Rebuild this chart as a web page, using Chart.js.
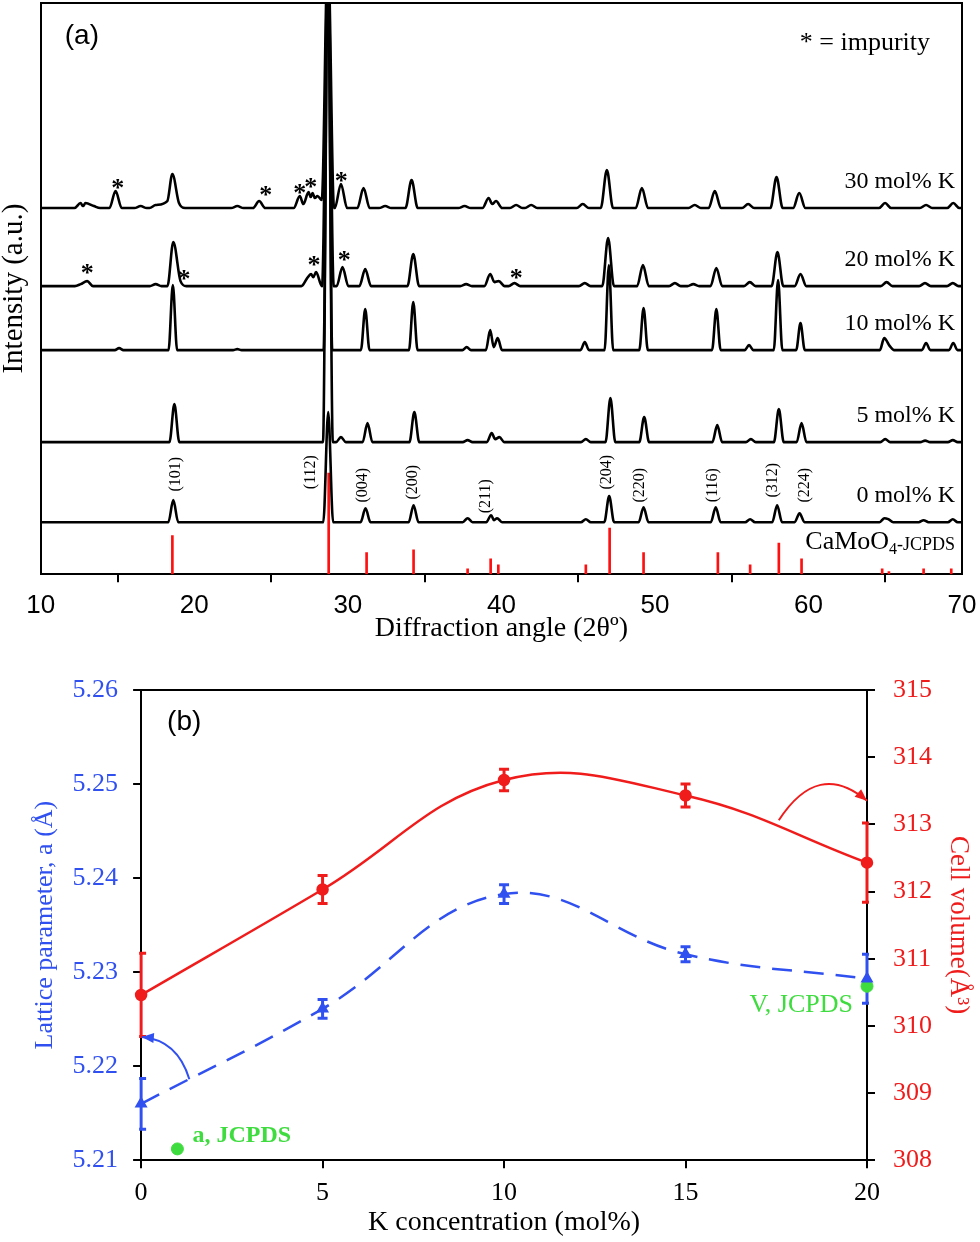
<!DOCTYPE html>
<html>
<head>
<meta charset="utf-8">
<script src="https://cdn.jsdelivr.net/npm/chart.js@4.4.1/dist/chart.umd.min.js"></script>
<style>
  body { margin: 0; background: #fff; }
  #wrapA { position: absolute; left: 0; top: 0; width: 980px; height: 650px; }
  #wrapB { position: absolute; left: 0; top: 650px; width: 980px; height: 592px; }
</style>
</head>
<body>
<div id="wrapA"><canvas id="xrd"></canvas></div>
<div id="wrapB"><canvas id="latt"></canvas></div>
<script>
// ---------- panel (a) data : XRD patterns ----------
var sampleNames = ["0 mol% K", "5 mol% K", "10 mol% K", "20 mol% K", "30 mol% K"];
var baseLevels = [52, 132, 224, 288, 366];     // stacking offset of each pattern (a.u.)
var peakWidths = [0.32, 0.32, 0.28, 0.38, 0.40];

// [2theta, height above the pattern's baseline]
var peaks0 = [[18.63,22],[28.72,110],[31.15,14],[34.28,17],[37.8,4],[39.33,7],[39.52,2],[39.72,4],[45.5,3],
  [47.02,26],[49.26,15],[53.96,15],[56.2,3],[57.96,17],[59.42,9],[64.95,4],[65.2,3],[67.5,2],[69.4,3]];
var peaks5 = [[18.7,38],[28.7,480],[29.55,5],[31.28,19],[34.33,30],[37.8,2],[39.37,9],[39.6,3],[39.87,5],[45.5,3],
  [47.1,44],[49.3,25],[54.06,17],[56.25,3],[58.07,33],[59.55,19],[65.0,3],[67.6,1.5],[69.4,2]];
var peaks10 = [[15.1,2],[18.6,65],[22.8,1],[28.7,420],[31.13,41],[34.26,48],[37.74,3],[39.27,20],[39.5,3],[39.76,12],
  [45.43,8],[47.0,85],[49.26,42],[54.0,41],[56.13,5],[58.02,70],[59.48,27],[64.93,12],[65.3,4],[67.66,7],[69.43,7]];
var peaks20 = [[12.6,2],[13.02,5],[17.48,2],[18.63,44],[19.1,5],[27.35,8],[27.6,12],[27.75,9],[27.93,14],[28.7,330],
  [29.65,19],[31.13,17],[34.26,32],[37.7,2],[39.27,12],[39.55,4],[39.83,5],[40.85,3],[45.43,3],[46.95,48],[49.22,21],
  [51.3,3],[52.5,2],[54.0,18],[56.18,4],[57.98,34],[59.48,12],[65.09,4],[67.59,3],[69.4,3]];
var peaks30 = [[12.59,5],[12.75,2],[12.91,5],[13.46,2],[14.87,17],[16.5,2],[17.48,3],[18.24,7],[18.57,34],[19.0,5],
  [22.8,2],[24.22,7],[26.87,12],[27.1,4],[27.44,16],[27.58,11],[27.7,15],[27.85,10],[28.02,12],[28.3,8],[28.7,260],
  [29.55,24],[31.02,20],[32.43,2],[34.15,28],[37.6,2],[39.17,10],[39.4,4],[39.65,7],[40.96,3],[41.94,3],[45.3,4],
  [46.87,38],[49.15,20],[52.59,3],[53.9,17],[56.07,4],[57.92,31],[59.4,15],[64.99,5],[67.66,3],[69.43,5]];
var allPeaks = [peaks0, peaks5, peaks10, peaks20, peaks30];

// CaMoO4 JCPDS reference lines
var jcpdsAngle = [18.57, 28.75, 31.22, 34.28, 37.8, 39.3, 39.8, 45.5, 47.05, 49.26, 54.1, 56.2, 58.07, 59.55, 64.8, 65.24, 67.5, 69.3];
var jcpdsInt   = [38.7, 101, 21.7, 24.3, 5.3, 15.3, 9.3, 9.3, 46, 21.7, 21.7, 9.3, 31, 15.3, 5.3, 2.7, 5.3, 5.3];

// Miller indices written above the 0 mol% pattern
var hklNames = ["(101)", "(112)", "(004)", "(200)", "(211)", "(204)", "(220)", "(116)", "(312)", "(224)"];
var hklAngle = [18.8, 27.6, 30.95, 34.2, 39.0, 46.85, 49.0, 53.76, 57.67, 59.77];
var hklY     = [100, 102, 89, 92, 78, 102, 89, 89, 94, 89];

// impurity marks [2theta, height above baseline]
var impurity20 = [[13.02,18],[19.33,12],[27.8,26],[29.76,31],[40.96,13]];
var impurity30 = [[15.02,25],[24.65,18],[26.87,20],[27.59,26],[29.57,32]];

// ---------- panel (b) data ----------
var kConc      = [0, 5, 10, 15, 20];
var latticeA   = [5.2160, 5.2261, 5.2383, 5.2319, 5.2293];
var latticeErr = [0.0027, 0.0010, 0.0010, 0.0008, 0.0026];
var cellVol    = [310.46, 312.03, 313.66, 313.43, 312.43];
var cellErr    = [0.62, 0.21, 0.16, 0.17, 0.59];
var jcpdsA = [1, 5.2112];
var jcpdsV = [20, 310.59];
var arrowA = [[1.33, 5.2186], [1.0, 5.2228], [0.02, 5.2231]];
var arrowV = [[17.57, 313.06], [18.66, 313.97], [20, 313.35]];

var serif = "'Liberation Serif', 'Times New Roman', serif";
var sans = "'Liberation Sans', Arial, sans-serif";
var blue = "#3050f0", red = "#f01c1c", green = "#3fdc3f";

function buildTrace(peaks, w, base) {
  var pts = [{x: 10, y: base}];
  var prev = null;
  peaks.forEach(function (p) {
    if (prev === null) {
      pts.push({x: p[0] - w, y: base});
    } else if (p[0] - prev > 2 * w) {
      pts.push({x: prev + w, y: base});
      pts.push({x: p[0] - w, y: base});
    }
    pts.push({x: p[0], y: base + p[1]});
    prev = p[0];
  });
  pts.push({x: prev + w, y: base});
  pts.push({x: 70, y: base});
  return pts;
}

var xrdSets = [];
for (var i = allPeaks.length - 1; i >= 0; i--) {
  xrdSets.push({
    type: "line",
    data: buildTrace(allPeaks[i], peakWidths[i], baseLevels[i]),
    borderColor: "#000",
    borderWidth: 2.6,
    pointRadius: 0,
    cubicInterpolationMode: "monotone",
  });
}
xrdSets.push({
  type: "bar",
  data: jcpdsAngle.map(function (a, k) { return {x: a, y: jcpdsInt[k]}; }),
  backgroundColor: "#ff1010",
  barThickness: 2,
});

var xrdText = {
  id: "xrdText",
  beforeDatasetsDraw(chart) {
    var ca = chart.chartArea, ctx = chart.ctx;
    ctx.save();
    ctx.strokeStyle = "#000"; ctx.lineWidth = 2;
    ctx.beginPath();
    ctx.moveTo(ca.left, ca.top); ctx.lineTo(ca.right, ca.top); ctx.lineTo(ca.right, ca.bottom);
    ctx.stroke();
    ctx.restore();
  },
  afterDraw(chart) {
    var ctx = chart.ctx, ca = chart.chartArea, x = chart.scales.x, y = chart.scales.y;
    ctx.save();
    ctx.fillStyle = "#000";
    ctx.textBaseline = "middle";
    ctx.font = "28px " + sans; ctx.textAlign = "left";
    ctx.fillText("(a)", ca.left + 24, ca.top + 33);
    ctx.font = "26px " + serif; ctx.textAlign = "right";
    ctx.fillText("* = impurity", ca.right - 32, ca.top + 40);
    ctx.font = "24px " + serif;
    var xr = x.getPixelForValue(69.55);
    sampleNames.forEach(function (n, k) {
      ctx.fillText(n, xr, y.getPixelForValue(baseLevels[k] + 26));
    });
    // CaMoO4-JCPDS
    var yl = y.getPixelForValue(32);
    ctx.textAlign = "left";
    ctx.font = "26px " + serif; var w1 = ctx.measureText("CaMoO").width;
    ctx.font = "16px " + serif; var w2 = ctx.measureText("4").width;
    ctx.font = "18px " + serif; var w3 = ctx.measureText("-JCPDS").width;
    var x0 = xr - (w1 + w2 + w3);
    ctx.font = "26px " + serif; ctx.fillText("CaMoO", x0, yl);
    ctx.font = "16px " + serif; ctx.fillText("4", x0 + w1, yl + 8);
    ctx.font = "18px " + serif; ctx.fillText("-JCPDS", x0 + w1 + w2, yl + 3);
    // Miller indices
    ctx.font = "16px " + serif; ctx.textAlign = "center";
    hklNames.forEach(function (n, k) {
      ctx.save();
      ctx.translate(x.getPixelForValue(hklAngle[k]), y.getPixelForValue(hklY[k]));
      ctx.rotate(-Math.PI / 2);
      ctx.fillText(n, 0, 0);
      ctx.restore();
    });
    // impurity marks
    ctx.font = "bold 26px " + serif;
    impurity20.forEach(function (p) {
      ctx.fillText("*", x.getPixelForValue(p[0]), y.getPixelForValue(baseLevels[3] + p[1]) + 6);
    });
    impurity30.forEach(function (p) {
      ctx.fillText("*", x.getPixelForValue(p[0]), y.getPixelForValue(baseLevels[4] + p[1]) + 6);
    });
    ctx.restore();
  }
};

new Chart(document.getElementById("xrd").getContext("2d"), {
  type: "line",
  data: { datasets: xrdSets },
  options: {
    responsive: true,
    maintainAspectRatio: false,
    animation: false,
    layout: { padding: { left: 0, right: 18, top: 3, bottom: 5 } },
    plugins: { legend: { display: false }, tooltip: { enabled: false } },
    scales: {
      x: {
        type: "linear", min: 10, max: 70, offset: false,
        ticks: { stepSize: 10, color: "#000", font: { family: sans, size: 26 }, padding: 8 },
        grid: { drawOnChartArea: false, tickLength: 8, color: "#000", lineWidth: 2 },
        border: { color: "#000", width: 2 },
        title: { display: true, text: "Diffraction angle (2θº)", color: "#000",
                 font: { family: serif, size: 28 }, padding: { top: -18, bottom: 0 } },
        afterFit: function (scale) { scale.paddingLeft = 0; scale.paddingRight = 0; },
      },
      y: {
        min: 0, max: 571,
        ticks: { display: false },
        grid: { display: false, drawTicks: false },
        border: { color: "#000", width: 2 },
        title: { display: true, text: "Intensity (a.u.)", color: "#000",
                 font: { family: serif, size: 29 }, padding: { top: -3, bottom: 9 } },
      },
    },
  },
  plugins: [xrdText],
});

// ---------- panel (b) ----------
function drawErr(ctx, xs, ys, xv, yv, ev, color) {
  ctx.strokeStyle = color;
  xv.forEach(function (xx, k) {
    var px = xs.getPixelForValue(xx);
    var pt = ys.getPixelForValue(yv[k] + ev[k]);
    var pb = ys.getPixelForValue(yv[k] - ev[k]);
    ctx.beginPath();
    ctx.moveTo(px, pt); ctx.lineTo(px, pb);
    ctx.moveTo(px - 5, pt); ctx.lineTo(px + 5, pt);
    ctx.moveTo(px - 5, pb); ctx.lineTo(px + 5, pb);
    ctx.stroke();
  });
}

function curvedArrow(ctx, xs, ys, pts, color) {
  var p = pts.map(function (q) { return {x: xs.getPixelForValue(q[0]), y: ys.getPixelForValue(q[1])}; });
  ctx.strokeStyle = color; ctx.fillStyle = color; ctx.lineWidth = 2;
  ctx.beginPath();
  ctx.moveTo(p[0].x, p[0].y);
  ctx.quadraticCurveTo(p[1].x, p[1].y, p[2].x, p[2].y);
  ctx.stroke();
  var ang = Math.atan2(p[2].y - p[1].y, p[2].x - p[1].x);
  var L = 12, W = 5;
  ctx.beginPath();
  ctx.moveTo(p[2].x, p[2].y);
  ctx.lineTo(p[2].x - L * Math.cos(ang) + W * Math.sin(ang), p[2].y - L * Math.sin(ang) - W * Math.cos(ang));
  ctx.lineTo(p[2].x - L * Math.cos(ang) - W * Math.sin(ang), p[2].y - L * Math.sin(ang) + W * Math.cos(ang));
  ctx.closePath();
  ctx.fill();
}

var latticeExtras = {
  id: "latticeExtras",
  beforeDatasetsDraw(chart) {
    var ctx = chart.ctx, ca = chart.chartArea, s = chart.scales;
    ctx.save();
    ctx.strokeStyle = "#000"; ctx.lineWidth = 2;
    ctx.beginPath(); ctx.moveTo(ca.left, ca.top); ctx.lineTo(ca.right, ca.top); ctx.stroke();
    ctx.beginPath();
    ctx.rect(ca.left - 2, ca.top, ca.right - ca.left + 4, ca.bottom - ca.top);
    ctx.clip();
    ctx.lineWidth = 3;
    drawErr(ctx, s.x, s.yV, kConc, cellVol, cellErr, red);
    drawErr(ctx, s.x, s.yA, kConc, latticeA, latticeErr, blue);
    ctx.restore();
  },
  afterDraw(chart) {
    var ctx = chart.ctx, ca = chart.chartArea, s = chart.scales;
    ctx.save();
    ctx.fillStyle = "#000"; ctx.textBaseline = "middle"; ctx.textAlign = "left";
    ctx.font = "28px " + sans;
    ctx.fillText("(b)", ca.left + 26, ca.top + 32);
    curvedArrow(ctx, s.x, s.yA, arrowA, blue);
    curvedArrow(ctx, s.x, s.yV, arrowV, red);
    var pa = {x: s.x.getPixelForValue(jcpdsA[0]), y: s.yA.getPixelForValue(jcpdsA[1])};
    ctx.fillStyle = green;
    ctx.font = "bold 24px " + serif;
    ctx.fillText("a, JCPDS", pa.x + 15, pa.y - 13);
    var pv = {x: s.x.getPixelForValue(jcpdsV[0]), y: s.yV.getPixelForValue(jcpdsV[1])};
    ctx.font = "26px " + serif; ctx.textAlign = "right";
    ctx.fillText("V, JCPDS", pv.x - 14, pv.y + 19);
    ctx.restore();
  }
};

new Chart(document.getElementById("latt").getContext("2d"), {
  type: "line",
  data: {
    datasets: [
      {
        data: kConc.map(function (c, k) { return {x: c, y: cellVol[k]}; }),
        yAxisID: "yV",
        borderColor: red, backgroundColor: red, borderWidth: 2.5,
        tension: 0.4, pointStyle: "circle", pointRadius: 5, clip: false,
      },
      {
        data: kConc.map(function (c, k) { return {x: c, y: latticeA[k]}; }),
        yAxisID: "yA",
        borderColor: blue, backgroundColor: blue, borderWidth: 2.5, borderDash: [20, 12],
        tension: 0.4, pointStyle: "triangle", pointRadius: 5, clip: false,
      },
      {
        data: [{x: jcpdsA[0], y: jcpdsA[1]}], yAxisID: "yA", showLine: false,
        pointRadius: 6, backgroundColor: green, borderColor: green, clip: false,
      },
      {
        data: [{x: jcpdsV[0], y: jcpdsV[1]}], yAxisID: "yV", showLine: false,
        pointRadius: 6, backgroundColor: green, borderColor: green, clip: false,
      },
    ],
  },
  options: {
    responsive: true,
    maintainAspectRatio: false,
    animation: false,
    layout: { padding: { left: 27, right: 4, top: 40, bottom: 3 } },
    plugins: { legend: { display: false }, tooltip: { enabled: false } },
    scales: {
      x: {
        type: "linear", min: 0, max: 20,
        ticks: { stepSize: 5, color: "#000", font: { family: serif, size: 26 }, padding: 9 },
        grid: { drawOnChartArea: false, tickLength: 8, color: "#000", lineWidth: 2 },
        border: { color: "#000", width: 2 },
        title: { display: true, text: "K concentration (mol%)", color: "#000",
                 font: { family: serif, size: 28 }, padding: { top: -12, bottom: 0 } },
      },
      yA: {
        position: "left", min: 5.21, max: 5.26,
        ticks: { stepSize: 0.01, color: blue, font: { family: serif, size: 26 }, padding: 15,
                 callback: function (v) { return v.toFixed(2); } },
        grid: { drawOnChartArea: false, tickLength: 8, color: "#000", lineWidth: 2 },
        border: { color: "#000", width: 2 },
        title: { display: true, text: "Lattice parameter, a (Å)", color: blue,
                 font: { family: serif, size: 26 }, padding: { top: 2.4, bottom: -3 } },
      },
      yV: {
        position: "right", min: 308, max: 315,
        ticks: { stepSize: 1, color: red, font: { family: serif, size: 26 }, padding: 18 },
        grid: { drawOnChartArea: false, tickLength: 8, color: "#000", lineWidth: 2 },
        border: { color: "#000", width: 2 },
        title: { display: true, text: "Cell volume(Å³)", color: red,
                 font: { family: serif, size: 27 }, padding: { top: 1.8, bottom: -8.2 } },
      },
    },
  },
  plugins: [latticeExtras],
});
</script>
</body>
</html>
